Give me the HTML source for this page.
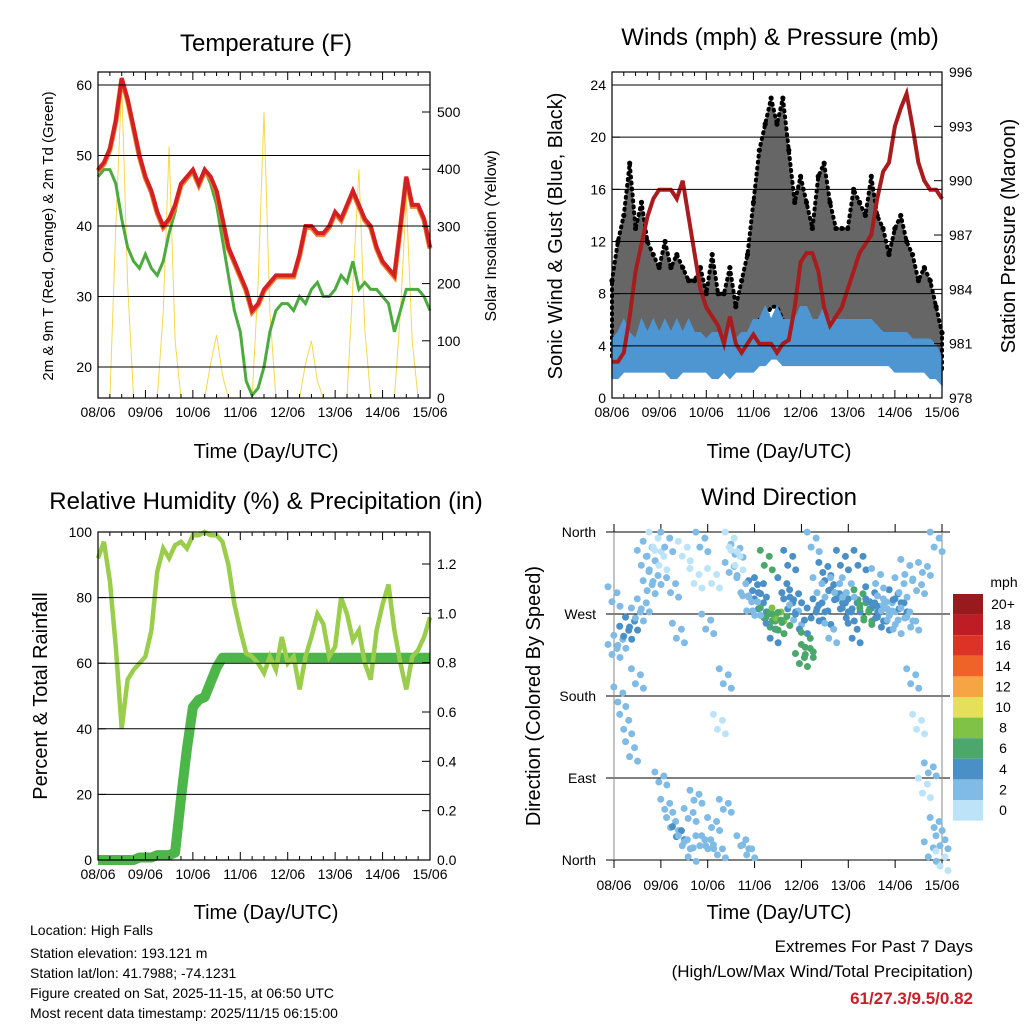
<!DOCTYPE html>
<html><head><meta charset="utf-8"><style>
body{margin:0;background:#fff;}
svg{display:block;font-family:"Liberation Sans",sans-serif;}
</style></head><body>
<svg id="c" width="1024" height="1024" viewBox="0 0 1024 1024"></svg>
<script>
// ---- data (3-hourly, day 0 = 08/06 to day 7 = 15/06) ----
const dayLabels = ["08/06","09/06","10/06","11/06","12/06","13/06","14/06","15/06"];
const tempT = [48,49,51,55,61,58,54,50, 47,45,42,40,41,43,46,47, 48,46,48,47,45,41,37,35, 33,31,28,29,31,32,33,33, 33,33,36,40,40,39,39,40, 42,41,43,45,43,41,40,37, 35,34,33,40,47,43,43,41, 37];
const dewTd = [47,48,48,46,41,37,35,34, 36,34,33,35,39,42,46,47, 48,46,48,46,43,38,33,28, 25,18,16,17,20,25,28,29, 29,28,30,29,31,32,30,30, 31,33,32,35,31,32,31,31, 30,29,25,28,31,31,31,30, 28];
const solar = [0,0,0,300,550,200,0,0, 0,0,0,150,440,100,0,0, 0,0,0,60,110,40,0,0, 0,0,0,200,500,150,0,0, 0,0,0,60,100,30,0,0, 0,0,0,200,400,120,0,0, 0,0,0,150,350,100,0,0, 0];
const pressure = [980,980,980.5,982.5,985,986.5,988,989, 989.5,989.5,989.5,989,990,988,986,984, 983,982.5,982,981,982.5,981,980.5,981, 981.5,981,981,981,980.5,981,981.2,983, 985.5,986,986,985,983,982,982.5,983, 984,985,986,986.5,987,989,990.5,991, 993,994,994.8,993,991,990,989.5,989.5, 989];
const windLow = [1.5,1.5,2,2,2,2,2,2, 2,2,1.5,1.5,2,2,2,2, 2,1.5,1.5,2,1.5,2,2,2, 2,2.5,2.5,3,3,2.5,2.5,2.5, 2.5,2.5,2.5,2.5,2.5,2.5,2.5,2.5, 2.5,2.5,2.5,2.5,2.5,2.5,2.5,2.5, 2,2,2,2,2,2,1.5,1.5, 1];
const windHigh = [4.5,5,6,5,4.5,6,5,6, 5,6,5,6,5,6,5,5, 4.5,5,5,4.5,6,4.5,5,5, 6,6,7,6,7,6,6,6, 7,7,6,6,7,6,6,6, 6,6,6,6,6,5.5,5,5, 5,5,5,4.5,4.5,4.5,4.5,4, 3];
const gustLow = [3,4,4,5,4,4,4,4, 4,5,4,4,4,5,4,3, 3,4,3,3,4,3,3,4, 5,6,6,7,7,6,5,5, 5,6,5,4,5,5,5,5, 4,5,5,5,5,4,4,4, 4,4,3,3,3,3,3,3, 2];
const gustHigh = [9,12,14,18,13,15,12,11, 10,12,10,11,10,9,9,10, 8,11,8,8,10,7,9,11, 15,19,21,23,21,23,19,15, 17,15,13,17,18,15,13,13, 13,16,15,14,17,14,13,11, 13,14,12,11,9,10,9,7, 5];
const rh = [92,97,85,65,40,55,58,60, 62,70,88,95,92,96,97,95, 99,99,100,99,99,97,90,78, 70,63,62,60,57,62,58,68, 60,62,52,62,68,75,72,62, 65,80,75,67,70,60,55,70, 78,84,70,60,52,62,64,68, 74];
const precip = [0,0,0,0,0,0,0,0.01, 0.01,0.01,0.02,0.02,0.02,0.03,0.25,0.45, 0.62,0.65,0.66,0.72,0.78,0.82,0.82,0.82, 0.82,0.82,0.82,0.82,0.82,0.82,0.82,0.82, 0.82,0.82,0.82,0.82,0.82,0.82,0.82,0.82, 0.82,0.82,0.82,0.82,0.82,0.82,0.82,0.82, 0.82,0.82,0.82,0.82,0.82,0.82,0.82,0.82, 0.82];
const dirA = [230,240,250,260,270,280,300,310, 90,60,40,30,20,50,70,20, 20,40,10,60,320,340,20,10, 300,280,270,260,270,265,280,290, 220,230,270,280,320,300,290,280, 270,280,290,270,280,270,260,280, 290,280,270,260,300,320,100,40, 20];
const dirB = [290,180,150,120,200,330,340,350, 330,350,300,250,340,10,310,350, 260,310,150,200,350,330,300,280, 280,300,330,250,260,300,330,270, 260,240,350,300,270,250,300,330, 300,250,330,270,290,310,280,270, 260,300,320,200,150,80,10,350, 0];
const dirSpeed = [3,3,4,4,3,3,3,2, 2,3,3,4,2,3,2,3, 3,2,2,3,2,2,3,3, 4,5,7,6,8,6,5,4, 6,7,4,4,5,4,4,5, 4,5,6,7,5,4,4,3, 4,4,3,3,2,2,3,3, 2];
const legendLabels = ["20+","18","16","14","12","10","8","6","4","2","0"];
const legendColors = ["#981a1d","#be1d26","#dd3327","#ef6329","#f6a545","#e5df59","#7fc246","#4ba86a","#4a8fc5","#80bbe5","#bde3f8"];

const NS="http://www.w3.org/2000/svg";
const svg=document.getElementById('c');
function mk(tag,attrs,parent){const e=document.createElementNS(NS,tag);for(const k in attrs)e.setAttribute(k,attrs[k]);(parent||svg).appendChild(e);return e;}
function txt(s,x,y,size,anchor,rot,parent,extra){const t=mk('text',{x:x,y:y,'font-size':size,'text-anchor':anchor||'middle',fill:'#000'},parent);if(rot)t.setAttribute('transform','rotate('+rot+' '+x+' '+y+')');if(extra)for(const k in extra)t.setAttribute(k,extra[k]);t.textContent=s;return t;}
function scale(d0,d1,r0,r1){return v=>r0+(v-d0)/(d1-d0)*(r1-r0);}
function pathOf(arr,sx,sy){return arr.map((v,i)=>(i?'L':'M')+sx(i/8).toFixed(1)+' '+sy(v).toFixed(1)).join(' ');}

function frame(g,x0,x1,y0,y1,leftTicks,ly,rightTicks,ry,grid,rdec){
  mk('rect',{x:x0,y:y0,width:x1-x0,height:y1-y0,fill:'none',stroke:'#000','stroke-width':1.2},g);
  const sx=scale(0,7,x0,x1);
  for(let d=0;d<=7;d++){
    mk('line',{x1:sx(d),x2:sx(d),y1:y1,y2:y1-8,stroke:'#000'},g);
    mk('line',{x1:sx(d),x2:sx(d),y1:y0,y2:y0+8,stroke:'#000'},g);
    const t=txt(dayLabels[d],sx(d),y1+19,14,'middle',0,g);
    
  }
  for(let d=0;d<7;d+=0.25){ if(d%1===0)continue;
    mk('line',{x1:sx(d),x2:sx(d),y1:y1,y2:y1-4,stroke:'#000'},g);
    mk('line',{x1:sx(d),x2:sx(d),y1:y0,y2:y0+4,stroke:'#000'},g);}
  leftTicks.forEach(v=>{const y=ly(v);
    if(grid)mk('line',{x1:x0,x2:x1,y1:y,y2:y,stroke:'#000','stroke-width':1},g);
    mk('line',{x1:x0,x2:x0+8,y1:y,y2:y,stroke:'#000'},g);
    const t=txt(String(v),x0-6,y+5,14,'end',0,g);
    });
  if(rightTicks) rightTicks.forEach(v=>{const y=ry(v);
    mk('line',{x1:x1,x2:x1-8,y1:y,y2:y,stroke:'#000'},g);
    const t=txt(rdec?v.toFixed(1):String(v),x1+7,y+5,14,'start',0,g);
    });
}

// ===== Panel 1: Temperature =====
(function(){
  const g=mk('g',{});
  const x0=98,x1=430,y0=72,y1=398;
  const sx=scale(0,7,x0,x1), sy=scale(20,60,367,85), sr=scale(0,500,398,112);
  const sol=mk('path',{d:pathOf(solar,sx,sr),fill:'none',stroke:'#f5d94a','stroke-width':1},g);
  
  const dp=mk('path',{d:pathOf(dewTd,sx,sy),fill:'none',stroke:'#4bab3e','stroke-width':3},g);
  
  const t9=mk('path',{d:pathOf(tempT,sx,v=>sy(v)+1.5),fill:'none',stroke:'#f0822a','stroke-width':5},g);
  
  const t2=mk('path',{d:pathOf(tempT,sx,sy),fill:'none',stroke:'#d42025','stroke-width':4},g);
  
  frame(g,x0,x1,y0,y1,[20,30,40,50,60],sy,[0,100,200,300,400,500],sr,true,false);
  let t=txt('Temperature (F)',266,51,24,'middle',0,g);
  t=txt('Time (Day/UTC)',266,458,20,'middle',0,g);
  t=txt('2m & 9m T (Red, Orange) & 2m Td (Green)',53,236,15,'middle',-90,g);
  t=txt('Solar Insolation (Yellow)',496,236,16,'middle',-90,g);
})();

// ===== Panel 2: Winds & Pressure =====
(function(){
  const g=mk('g',{});
  const x0=612,x1=942,y0=72,y1=398;
  const sx=scale(0,7,x0,x1), sy=scale(0,24,398,85), sp=scale(978,996,398,72);
  let hi=gustHigh.map((v,i)=>sx(i/8).toFixed(1)+','+sy(v).toFixed(1));
  let lo=gustLow.map((v,i)=>sx(i/8).toFixed(1)+','+sy(v).toFixed(1)).reverse();
  const gb=mk('polygon',{points:hi.concat(lo).join(' '),fill:'#000','fill-opacity':0.6,stroke:'#000','stroke-width':4,'stroke-dasharray':'1 5','stroke-linecap':'round'},g);
  
  gustHigh.forEach((v,i)=>{const c=mk('circle',{cx:sx(i/8),cy:sy(v),r:2.6,fill:'#000'},g);
    });
  hi=windHigh.map((v,i)=>sx(i/8).toFixed(1)+','+sy(v).toFixed(1));
  lo=windLow.map((v,i)=>sx(i/8).toFixed(1)+','+sy(v).toFixed(1)).reverse();
  const wb=mk('polygon',{points:hi.concat(lo).join(' '),fill:'#4e96d2',stroke:'#4e96d2','stroke-width':1.5},g);
  
  const pl=mk('path',{d:pathOf(pressure,sx,sp),fill:'none',stroke:'#a81c1e','stroke-width':4},g);
  
  frame(g,x0,x1,y0,y1,[0,4,8,12,16,20,24],sy,[978,981,984,987,990,993,996],sp,true,false);
  let t=txt('Winds (mph) & Pressure (mb)',780,45,24,'middle',0,g);
  t=txt('Time (Day/UTC)',779,458,20,'middle',0,g);
  t=txt('Sonic Wind & Gust (Blue, Black)',562,236,20,'middle',-90,g);
  t=txt('Station Pressure (Maroon)',1015,236,20,'middle',-90,g);
})();

// ===== Panel 3: RH & Precip =====
(function(){
  const g=mk('g',{});
  const x0=98,x1=430,y0=532,y1=860;
  const sx=scale(0,7,x0,x1), sy=scale(0,100,860,532), sr=scale(0,1.2,860,564);
  const pr=mk('path',{d:pathOf(precip,sx,sr),fill:'none',stroke:'#4db648','stroke-width':10,'stroke-linejoin':'round'},g);
  
  const rl=mk('path',{d:pathOf(rh,sx,sy),fill:'none',stroke:'#9acd4c','stroke-width':4.5},g);
  
  frame(g,x0,x1,y0,y1,[0,20,40,60,80,100],sy,[0,0.2,0.4,0.6,0.8,1.0,1.2],sr,true,true);
  let t=txt('Relative Humidity (%) & Precipitation (in)',266,509,24,'middle',0,g);
  t=txt('Time (Day/UTC)',266,919,20,'middle',0,g);
  t=txt('Percent & Total Rainfall',47,696,20,'middle',-90,g);
})();

// ===== Panel 4: Wind direction =====
(function(){
  const g=mk('g',{});
  const x0=614,x1=942,y0=532,y1=860;
  const sx=scale(0,7,x0,x1), sy=scale(0,360,860,532);
  const dirNames=["North","East","South","West","North"];
  [0,90,180,270,360].forEach((v,i)=>{const y=sy(v);
    mk('line',{x1:x0-8,x2:x1+8,y1:y,y2:y,stroke:'#000'},g);
    const t=txt(dirNames[i],x0-18,y+5,14,'end',0,g);});
  mk('line',{x1:x0,x2:x0,y1:y0-8,y2:y1+8,stroke:'#888'},g);
  mk('line',{x1:x1,x2:x1,y1:y0-8,y2:y1+8,stroke:'#888'},g);
  for(let d=0;d<=7;d++){const x=sx(d);
    mk('line',{x1:x,x2:x,y1:y0,y2:y0-8,stroke:'#000'},g);
    mk('line',{x1:x,x2:x,y1:y1,y2:y1+8,stroke:'#000'},g);
    const t=txt(dayLabels[d],x,y1+30,14,'middle',0,g);}
  function col(s){const idx=Math.min(10,Math.max(0,10-Math.floor(s/2)));return legendColors[idx];}
  const offs=[[-6,-6],[-2,4],[3,-2],[6,7]];
  [dirA,dirB].forEach((arr,k)=>arr.forEach((v,i)=>{
    const c=col(dirSpeed[i]-(k?1:0));
    offs.forEach(o=>{const p=mk('circle',{cx:sx(i/8)+o[0],cy:sy(v)+o[1]*(k?1.5:1),r:3.5,fill:c},g);
      });
  }));
  let t=txt('Wind Direction',779,505,24,'middle',0,g);
  t=txt('Time (Day/UTC)',779,919,20,'middle',0,g);
  t=txt('Direction (Colored By Speed)',540,696,20,'middle',-90,g);
  const lg=mk('g',{},g);
  t=txt('mph',1004,587,14,'middle',0,lg);
  legendColors.forEach((c,i)=>{const y=594+i*20.6;
    const r=mk('rect',{x:953,y:y,width:30,height:20.6,fill:c},lg);
    const l=txt(legendLabels[i],1003,y+15,14,'middle',0,lg);});
})();

// ===== Footer text =====
(function(){
  const g=mk('g',{});
  const lines=["Location: High Falls","Station elevation: 193.121 m","Station lat/lon: 41.7988; -74.1231","Figure created on Sat, 2025-11-15, at 06:50 UTC","Most recent data timestamp: 2025/11/15 06:15:00"];
  const ys=[935,958,978,998,1018];
  lines.forEach((s,i)=>{const t=txt(s,30,ys[i],14,'start',0,g);});
  const g2=mk('g',{});
  let t=txt('Extremes For Past 7 Days',973,952,17,'end',0,g2);
  t=txt('(High/Low/Max Wind/Total Precipitation)',973,977,17,'end',0,g2);
  t=txt('61/27.3/9.5/0.82',973,1004,17,'end',0,g2,{fill:'#c8202a','font-weight':'bold'});
})();
</script>
</body></html>
